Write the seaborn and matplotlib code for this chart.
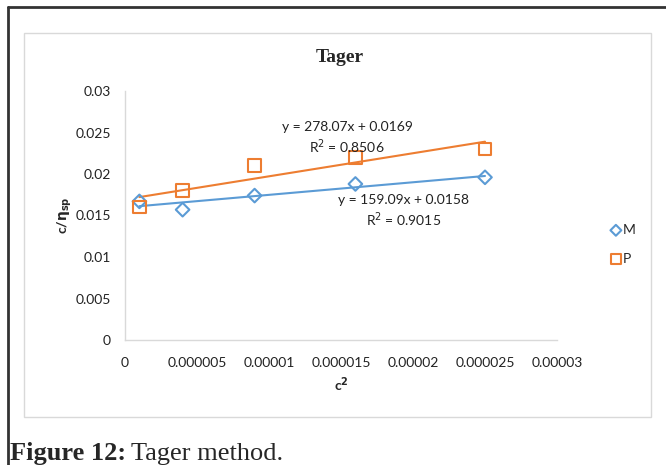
import numpy as np
import pandas as pd
import matplotlib
matplotlib.use("Agg")
import matplotlib.pyplot as plt
import seaborn as sns
from matplotlib.lines import Line2D
from matplotlib.patches import Rectangle

# c^2 values and c/eta_sp readings
c2 = [0.000001, 0.000004, 0.000009, 0.000016, 0.000025]
m_vals = [0.0167, 0.0157, 0.0174, 0.0188, 0.0196]
p_vals = [0.0160, 0.0180, 0.0210, 0.0220, 0.0230]

x_ticks = [0, 0.000005, 0.00001, 0.000015, 0.00002, 0.000025, 0.00003]
x_labels = ["0", "0.000005", "0.00001", "0.000015", "0.00002", "0.000025", "0.00003"]
y_ticks = [0, 0.005, 0.01, 0.015, 0.02, 0.025, 0.03]
y_labels = ["0", "0.005", "0.01", "0.015", "0.02", "0.025", "0.03"]

eq_m = "y = 159.09x + 0.0158"
r2_m = "R$^2$ = 0.9015"
eq_p = "y = 278.07x + 0.0169"
r2_p = "R$^2$ = 0.8506"

blue = "#5B9BD5"
orange = "#ED7D31"
grid_col = "#D9D9D9"

df = pd.DataFrame({"c2": c2, "M": m_vals, "P": p_vals})

sns.set_style("white")
plt.rcParams["font.family"] = ["Lato", "DejaVu Sans"]

fig = plt.figure(figsize=(6.66, 4.65), dpi=100)
W, H = 666, 465

# outer frame (dark line on left and top) and inner chart box
fig.add_artist(Line2D([8 / W, 8 / W], [0, 1 - 7 / H], color="#333333", lw=2, transform=fig.transFigure))
fig.add_artist(Line2D([8 / W, 1], [1 - 7 / H, 1 - 7 / H], color="#333333", lw=2, transform=fig.transFigure))
fig.add_artist(Rectangle((24 / W, 1 - 417 / H), (651 - 24) / W, (417 - 33) / H,
                         fill=False, edgecolor=grid_col, lw=1, transform=fig.transFigure))

ax = fig.add_axes([125 / W, 1 - 340 / H, (557 - 125) / W, (340 - 91) / H])

sns.regplot(data=df, x="c2", y="M", ax=ax, ci=None, truncate=True, marker="D",
            color=blue, label="M",
            scatter_kws={"facecolors": "none", "s": 48, "linewidths": 1.5, "alpha": 1, "zorder": 3},
            line_kws={"lw": 1.5, "zorder": 2})
sns.regplot(data=df, x="c2", y="P", ax=ax, ci=None, truncate=True, marker="s",
            color=orange, label="P",
            scatter_kws={"facecolors": "none", "s": 80, "linewidths": 1.5, "alpha": 1, "zorder": 3},
            line_kws={"lw": 1.5, "zorder": 2})

ax.set_xlim(0, 0.00003)
ax.set_ylim(0, 0.03)
ax.set_xticks(x_ticks)
ax.set_xticklabels(x_labels)
ax.set_yticks(y_ticks)
ax.set_yticklabels(y_labels)
ax.tick_params(axis="both", labelsize=10, colors=grid_col, labelcolor="#222222",
               direction="out", length=4, width=1, pad=6)
ax.tick_params(axis="x", pad=8)
for s in ["top", "right"]:
    ax.spines[s].set_visible(False)
for s in ["left", "bottom"]:
    ax.spines[s].set_color(grid_col)
    ax.spines[s].set_linewidth(1)
ax.set_facecolor("none")

ax.set_xlabel("c$^\\mathbf{2}$", fontsize=10, fontweight="bold", labelpad=5)
ax.set_ylabel("c/$\\mathbf{\\eta_{sp}}$", fontsize=10, fontweight="bold", labelpad=1)

# trendline equations
fig.text(347 / W, 1 - 127 / H, eq_p, ha="center", va="center", fontsize=10, color="#222222")
fig.text(347 / W, 1 - 147 / H, r2_p, ha="center", va="center", fontsize=10, color="#222222")
fig.text(404 / W, 1 - 200 / H, eq_m, ha="center", va="center", fontsize=10, color="#222222")
fig.text(404 / W, 1 - 220 / H, r2_m, ha="center", va="center", fontsize=10, color="#222222")

fig.text(340 / W, 1 - 58 / H, "Tager", ha="center", va="center", fontsize=14,
         fontweight="bold", family="Liberation Serif")

leg = ax.legend(loc="upper left", bbox_to_anchor=(602 / W, 1 - 217 / H),
                bbox_transform=fig.transFigure, frameon=False, fontsize=10,
                handletextpad=0.0, labelspacing=1.2, handlelength=1.0, borderpad=0,
                markerscale=0.8)

# caption
cap1 = fig.text(10 / W, 1 - 460 / H, "Figure 12:", fontsize=19, fontweight="bold",
                family="Liberation Serif", va="baseline")
fig.canvas.draw()
bb = cap1.get_window_extent()
fig.text(bb.x1 / W + 5 / W, 1 - 460 / H, "Tager method.", fontsize=19,
         family="Liberation Serif", va="baseline")

fig.savefig("out.png", dpi=100)
